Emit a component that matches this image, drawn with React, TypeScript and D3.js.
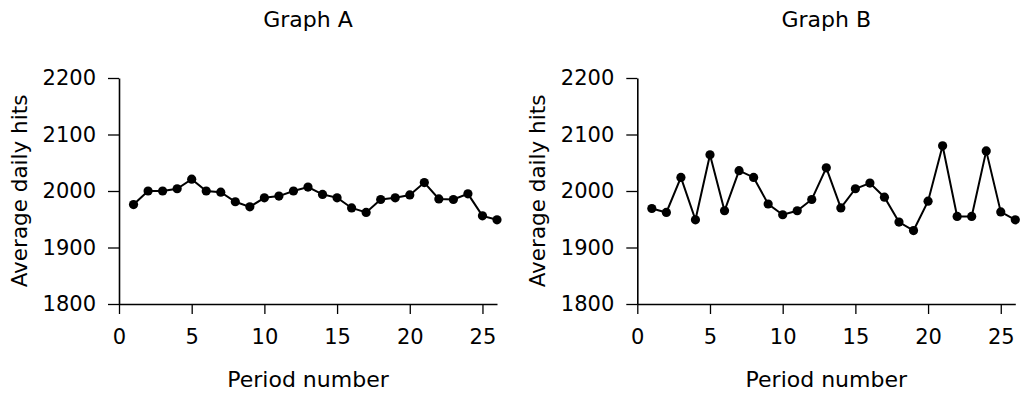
import { useEffect, useRef } from 'react'
import * as d3 from 'd3'

const periods = d3.range(1, 27)

const hitsA = [
  1976, 2000, 2000, 2004, 2021, 2000, 1998, 1981, 1972, 1988, 1991, 2000, 2007,
  1994, 1988, 1970, 1962, 1985, 1988, 1993, 2015, 1986, 1985, 1995, 1956, 1949,
]

const hitsB = [
  1969, 1962, 2024, 1949, 2064, 1965, 2036, 2024, 1977, 1958, 1965, 1985, 2041,
  1970, 2004, 2014, 1989, 1945, 1930, 1982, 2080, 1955, 1955, 2071, 1963, 1949,
]

const panelTitles = ['Graph A', 'Graph B']
const xTicks = [0, 5, 10, 15, 20, 25]
const yTicks = [1800, 1900, 2000, 2100, 2200]

export default function App() {
  const svgRef = useRef<SVGSVGElement>(null)

  useEffect(() => {
    if (!svgRef.current) return
    const svg = d3.select(svgRef.current)
    svg.selectAll('*').remove()

    const width = 1020
    const height = 393
    const font = 'DejaVu Sans, sans-serif'
    svg.attr('width', width).attr('height', height)

    const plotW = 378
    const plotH = 226
    const panels = [
      { left: 119, title: panelTitles[0], values: hitsA },
      { left: 637.3, title: panelTitles[1], values: hitsB },
    ]

    panels.forEach((p) => {
      const g = svg.append('g').attr('transform', `translate(${p.left},78)`)

      const x = d3.scaleLinear().domain([0, 26]).range([0, plotW])
      const y = d3.scaleLinear().domain([1800, 2200]).range([plotH, 0])

      // Axes
      const xAxis = g
        .append('g')
        .attr('transform', `translate(0,${plotH})`)
        .call(
          d3.axisBottom(x).tickValues(xTicks).tickFormat(d3.format('d'))
            .tickSize(10).tickSizeOuter(0).tickPadding(15)
        )
      const yAxis = g
        .append('g')
        .call(
          d3.axisLeft(y).tickValues(yTicks).tickFormat(d3.format('d'))
            .tickSize(11).tickSizeOuter(0).tickPadding(12)
        )

      ;[xAxis, yAxis].forEach((a) => {
        a.select('.domain').attr('stroke', '#000').attr('stroke-width', 1.6)
        a.selectAll('.tick line').attr('stroke', '#000').attr('stroke-width', 1.3)
        a.selectAll('.tick text')
          .attr('fill', '#000')
          .attr('font-family', font)
          .attr('font-size', '21px')
      })

      // Line
      const line = d3
        .line<number>()
        .x((_, i) => x(periods[i]))
        .y((d) => y(d))

      g.append('path')
        .datum(p.values)
        .attr('fill', 'none')
        .attr('stroke', '#000')
        .attr('stroke-width', 2)
        .attr('d', line)

      g.selectAll('circle.pt')
        .data(p.values)
        .enter()
        .append('circle')
        .attr('class', 'pt')
        .attr('cx', (_, i) => x(periods[i]))
        .attr('cy', (d) => y(d))
        .attr('r', 4.6)
        .attr('fill', '#000')

      // Title
      g.append('text')
        .attr('x', plotW / 2)
        .attr('y', -51)
        .attr('text-anchor', 'middle')
        .attr('font-family', font)
        .attr('font-size', '22px')
        .attr('fill', '#000')
        .text(p.title)

      // X label
      g.append('text')
        .attr('x', plotW / 2)
        .attr('y', 309)
        .attr('text-anchor', 'middle')
        .attr('font-family', font)
        .attr('font-size', '22px')
        .attr('fill', '#000')
        .text('Period number')

      // Y label
      g.append('text')
        .attr('transform', `translate(-92,${plotH / 2}) rotate(-90)`)
        .attr('text-anchor', 'middle')
        .attr('font-family', font)
        .attr('font-size', '21.5px')
        .attr('fill', '#000')
        .text('Average daily hits')
    })
  }, [])

  return (
    <div style={{ position: 'absolute', left: 0, top: 0, background: '#fff' }}>
      <svg ref={svgRef}></svg>
    </div>
  )
}
